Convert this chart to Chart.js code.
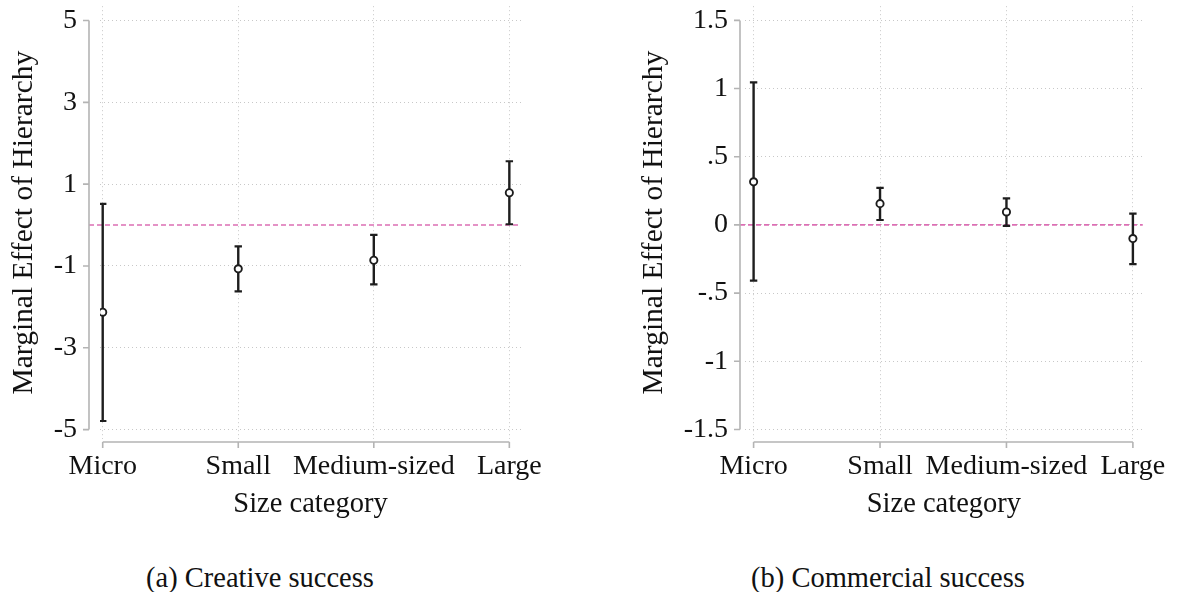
<!DOCTYPE html>
<html>
<head>
<meta charset="utf-8">
<script src="https://cdn.jsdelivr.net/npm/chart.js@4.4.1/dist/chart.umd.min.js"></script>
<style>
  html, body { margin: 0; padding: 0; background: #fff; }
  #page { position: relative; width: 1177px; height: 592px; font-family: "Liberation Serif", serif; color: #111; }
  .box { position: absolute; top: 0; height: 530px; }
  .caption { position: absolute; top: 561px; font-size: 28.5px; line-height: 33px; text-align: center; }
</style>
</head>
<body>
<div id="page">
  <div class="box" style="left:0;width:585px"><canvas id="creativeChart"></canvas></div>
  <div class="box" style="left:590px;width:587px"><canvas id="commercialChart"></canvas></div>
  <div class="caption" style="left:60px;width:400px">(a) Creative success</div>
  <div class="caption" style="left:688px;width:400px">(b) Commercial success</div>
</div>
<script>
// values
const sizeCategories = ['Micro', 'Small', 'Medium-sized', 'Large'];

const creativeEffect = [-2.13, -1.07, -0.86, 0.79];
const creativeLower = [-4.79, -1.62, -1.45, 0.02];
const creativeUpper = [0.52, -0.52, -0.24, 1.56];
const creativeTicks = [-5, -3, -1, 1, 3, 5];
const creativeTickLabels = ['-5', '-3', '-1', '1', '3', '5'];

const commercialEffect = [0.316, 0.156, 0.095, -0.10];
const commercialLower = [-0.409, 0.036, -0.007, -0.287];
const commercialUpper = [1.046, 0.272, 0.195, 0.083];
const commercialTicks = [-1.5, -1, -0.5, 0, 0.5, 1, 1.5];
const commercialTickLabels = ['-1.5', '-1', '-.5', '0', '.5', '1', '1.5'];

const referenceValue = 0;

const INK = '#1e1e1e';
const AXIS_GREY = '#b4b4b4';
const FONT = { family: '"Liberation Serif", serif', size: 28 };
const TITLE_FONT = { family: '"Liberation Serif", serif', size: 29.5 };

// Stata-style axes: lines detached from the plot region, plus the dashed zero line
const stataAxes = {
  id: 'stataAxes',
  beforeDatasetsDraw(chart, args, opts) {
    const { ctx, chartArea } = chart;
    const xs = chart.scales.x;
    const ys = chart.scales.y;
    const ax = chartArea.left - opts.yGap;
    const ay = chartArea.bottom + opts.xGap;

    ctx.save();
    const ry = ys.getPixelForValue(opts.refValue);
    ctx.strokeStyle = '#dc6fb4';
    ctx.lineWidth = 1.6;
    ctx.setLineDash([5, 3]);
    ctx.beginPath();
    ctx.moveTo(ax, ry);
    ctx.lineTo(chartArea.right, ry);
    ctx.stroke();
    ctx.setLineDash([]);

    ctx.strokeStyle = AXIS_GREY;
    ctx.lineWidth = 1.6;
    const yFirst = ys.getPixelForValue(ys.ticks[0].value);
    const yLast = ys.getPixelForValue(ys.ticks[ys.ticks.length - 1].value);
    ctx.beginPath();
    ctx.moveTo(ax, yFirst);
    ctx.lineTo(ax, yLast);
    ys.ticks.forEach(t => {
      const p = ys.getPixelForValue(t.value);
      ctx.moveTo(ax - 6, p);
      ctx.lineTo(ax, p);
    });
    const xFirst = xs.getPixelForValue(xs.ticks[0].value);
    const xLast = xs.getPixelForValue(xs.ticks[xs.ticks.length - 1].value);
    ctx.moveTo(xFirst, ay);
    ctx.lineTo(xLast, ay);
    xs.ticks.forEach(t => {
      const p = xs.getPixelForValue(t.value);
      ctx.moveTo(p, ay);
      ctx.lineTo(p, ay + 6);
    });
    ctx.stroke();
    ctx.restore();
  }
};

function buildChart(canvasId, cfg) {
  const points = cfg.effect.map((v, i) => ({ x: i, y: v }));
  const caps = [];
  cfg.lower.forEach((v, i) => caps.push({ x: i, y: v }, { x: i, y: cfg.upper[i] }));
  const whiskers = cfg.lower.map((v, i) => ({
    type: 'line',
    data: [{ x: i, y: v }, { x: i, y: cfg.upper[i] }],
    borderColor: INK,
    borderWidth: 2.4,
    pointRadius: 0,
    fill: false
  }));

  return new Chart(document.getElementById(canvasId), {
    type: 'scatter',
    data: {
      datasets: [
        { data: points, pointStyle: 'circle', pointRadius: 3.6, borderWidth: 1.9, borderColor: INK, backgroundColor: '#fff' },
        { data: caps, pointStyle: 'line', pointRadius: 3.7, borderWidth: 2.2, borderColor: INK, backgroundColor: INK },
        ...whiskers
      ]
    },
    options: {
      responsive: true,
      maintainAspectRatio: false,
      animation: false,
      events: [],
      layout: { padding: { left: 0, top: 5, right: cfg.padRight, bottom: 0 } },
      plugins: {
        legend: { display: false },
        tooltip: { enabled: false },
        stataAxes: { yGap: cfg.yGap, xGap: 3, refValue: referenceValue }
      },
      scales: {
        x: {
          type: 'linear', bounds: 'data', min: cfg.xMin, max: cfg.xMax,
          afterBuildTicks: s => { s.ticks = sizeCategories.map((c, i) => ({ value: i })); },
          afterFit: s => { s.height = 530 - 439; },
          ticks: { autoSkip: false, maxRotation: 0, minRotation: 0, padding: 11, color: '#111', font: FONT, callback: v => sizeCategories[v] },
          grid: { color: '#c8c8c8', lineWidth: 1, drawTicks: false },
          border: { display: false, dash: [1, 3] },
          title: { display: true, text: 'Size category', color: '#111', font: { family: FONT.family, size: 28.5 }, padding: { top: 0, bottom: 8 } }
        },
        y: {
          type: 'linear', bounds: 'data', min: cfg.yMin, max: cfg.yMax,
          afterBuildTicks: s => { s.ticks = cfg.ticks.map(v => ({ value: v })); },
          afterFit: s => { s.width = cfg.areaLeft; s.paddingTop = 0; s.paddingBottom = 0; },
          ticks: { padding: cfg.tickPad, color: '#111', font: FONT, callback: (v, i) => cfg.tickLabels[i] },
          grid: { color: '#c8c8c8', lineWidth: 1, drawTicks: false },
          border: { display: false, dash: [1, 3] },
          title: { display: true, text: 'Marginal Effect of Hierarchy', color: '#111', font: TITLE_FONT, padding: { top: cfg.titlePad, bottom: 0 } }
        }
      }
    },
    plugins: [stataAxes]
  });
}

buildChart('creativeChart', {
  effect: creativeEffect, lower: creativeLower, upper: creativeUpper,
  ticks: creativeTicks, tickLabels: creativeTickLabels,
  yMin: -5.23, yMax: 5.35, xMin: -0.02, xMax: 3.086,
  areaLeft: 100, padRight: 64, yGap: 11, tickPad: 23, titlePad: 7
});

buildChart('commercialChart', {
  effect: commercialEffect, lower: commercialLower, upper: commercialUpper,
  ticks: commercialTicks, tickLabels: commercialTickLabels,
  yMin: -1.57, yMax: 1.604, xMin: -0.068, xMax: 3.078,
  areaLeft: 155, padRight: 29, yGap: 5, tickPad: 17, titlePad: 47
});
</script>
</body>
</html>
